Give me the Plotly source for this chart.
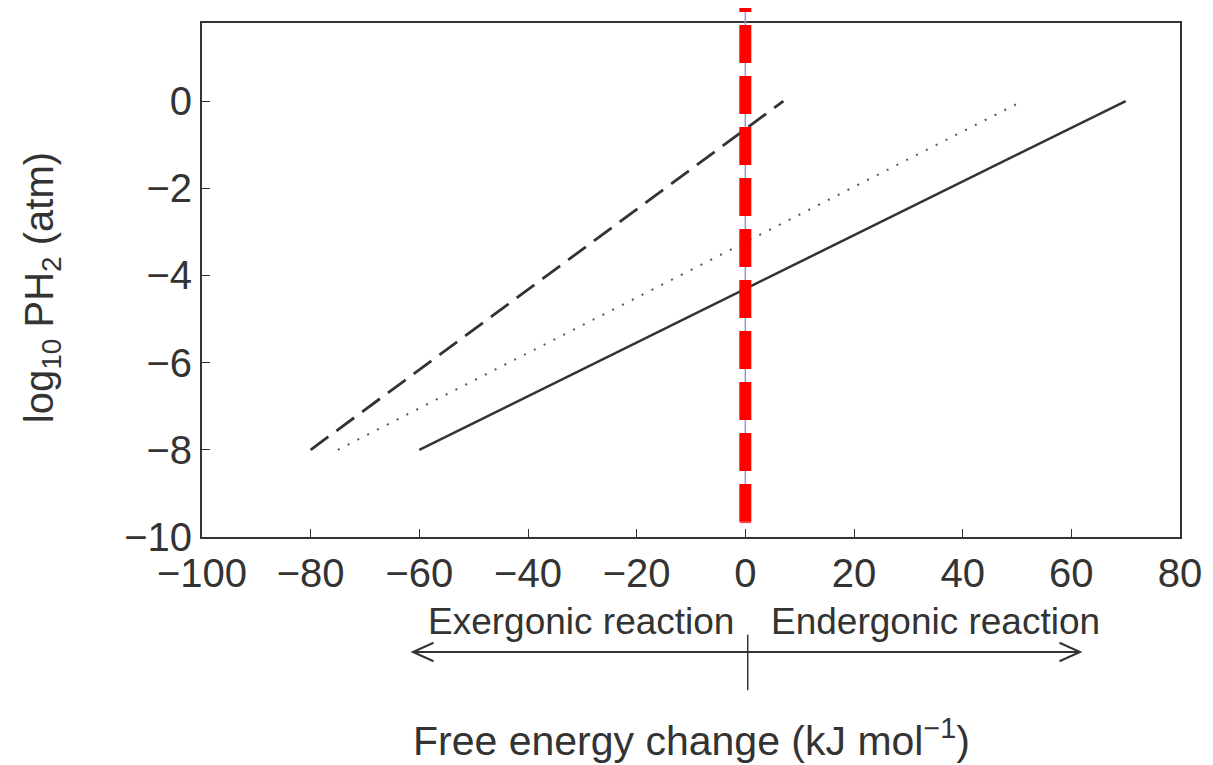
import plotly.graph_objects as go

# line end points: (free energy, log10 PH2)
dashed_x = [-80, 7]
dashed_y = [-8, 0]
dotted_x = [-75, 51]
dotted_y = [-8, 0]
solid_x = [-60, 70]
solid_y = [-8, 0]

x_ticks = [-100, -80, -60, -40, -20, 0, 20, 40, 60, 80]
y_ticks = [0, -2, -4, -6, -8, -10]

font = "Liberation Sans, Arial, sans-serif"
ink = "#333333"

fig = go.Figure()
fig.add_scatter(x=dashed_x, y=dashed_y, mode="lines",
                line=dict(color=ink, width=2.8, dash="22px,10px"))
fig.add_scatter(x=dotted_x, y=dotted_y, mode="lines",
                line=dict(color="#555555", width=2, dash="2px,9px"))
fig.add_scatter(x=solid_x, y=solid_y, mode="lines",
                line=dict(color=ink, width=2.5))

# highlighted zero line: thin blue guide under a thick red dashed line
fig.add_shape(type="line", xref="x", yref="paper", x0=0, x1=0, y0=0.029, y1=1.031,
              line=dict(color="#7f9de0", width=1.5))
fig.add_shape(type="line", xref="x", yref="paper", x0=0, x1=0, y0=0.029, y1=1.031,
              line=dict(color="#ff0000", width=12, dash="38px,13px"))
fig.add_shape(type="line", xref="x", yref="paper", x0=-1, x1=1, y0=0.029, y1=0.029,
              line=dict(color="#ff4040", width=2))

# double arrow under the axis
arrow_y = -0.2237
left_tip, right_tip, mid = 0.2157, 0.8978, 0.558
head_dx, head_dy = 0.021, 0.018
fig.add_shape(type="line", xref="paper", yref="paper", x0=left_tip, x1=right_tip,
              y0=arrow_y, y1=arrow_y, line=dict(color=ink, width=2))
fig.add_shape(type="path", xref="paper", yref="paper",
              path=f"M {left_tip+head_dx} {arrow_y+head_dy} L {left_tip} {arrow_y} L {left_tip+head_dx} {arrow_y-head_dy}",
              line=dict(color=ink, width=2))
fig.add_shape(type="path", xref="paper", yref="paper",
              path=f"M {right_tip-head_dx} {arrow_y+head_dy} L {right_tip} {arrow_y} L {right_tip-head_dx} {arrow_y-head_dy}",
              line=dict(color=ink, width=2))
fig.add_shape(type="line", xref="paper", yref="paper", x0=mid, x1=mid,
              y0=-0.19, y1=-0.298, line=dict(color=ink, width=1.5))

label_style = dict(xref="paper", yref="paper", showarrow=False,
                   xanchor="center", yanchor="middle")
fig.add_annotation(text="Exergonic reaction", x=0.3875, y=-0.164,
                   font=dict(size=37, color=ink), **label_style)
fig.add_annotation(text="Endergonic reaction", x=0.7495, y=-0.164,
                   font=dict(size=37, color=ink), **label_style)
fig.add_annotation(text="Free energy change (kJ mol<sup>−1</sup>)", x=0.501, y=-0.392,
                   font=dict(size=41, color=ink), **label_style)
fig.add_annotation(text="log<sub>10</sub> PH<sub>2</sub> (atm)", x=-0.1636, y=0.486,
                   textangle=-90, font=dict(size=40, color=ink), **label_style)

fig.update_layout(
    width=1213, height=765,
    margin=dict(l=194, r=41, t=15, b=236),
    plot_bgcolor="white", paper_bgcolor="white",
    showlegend=False,
    font=dict(family=font, size=40, color=ink),
    xaxis=dict(range=[-100, 80], tickvals=x_ticks, ticks="inside", ticklen=8,
               tickcolor=ink, showgrid=False, zeroline=False, showline=True,
               linecolor=ink, linewidth=2, mirror=True, tickfont=dict(size=40)),
    yaxis=dict(range=[-10, 1.79], tickvals=y_ticks, ticks="inside", ticklen=8,
               tickcolor=ink, showgrid=False, zeroline=False, showline=True,
               linecolor=ink, linewidth=2, mirror=True, tickfont=dict(size=40)),
)

fig.write_html("out.html")
